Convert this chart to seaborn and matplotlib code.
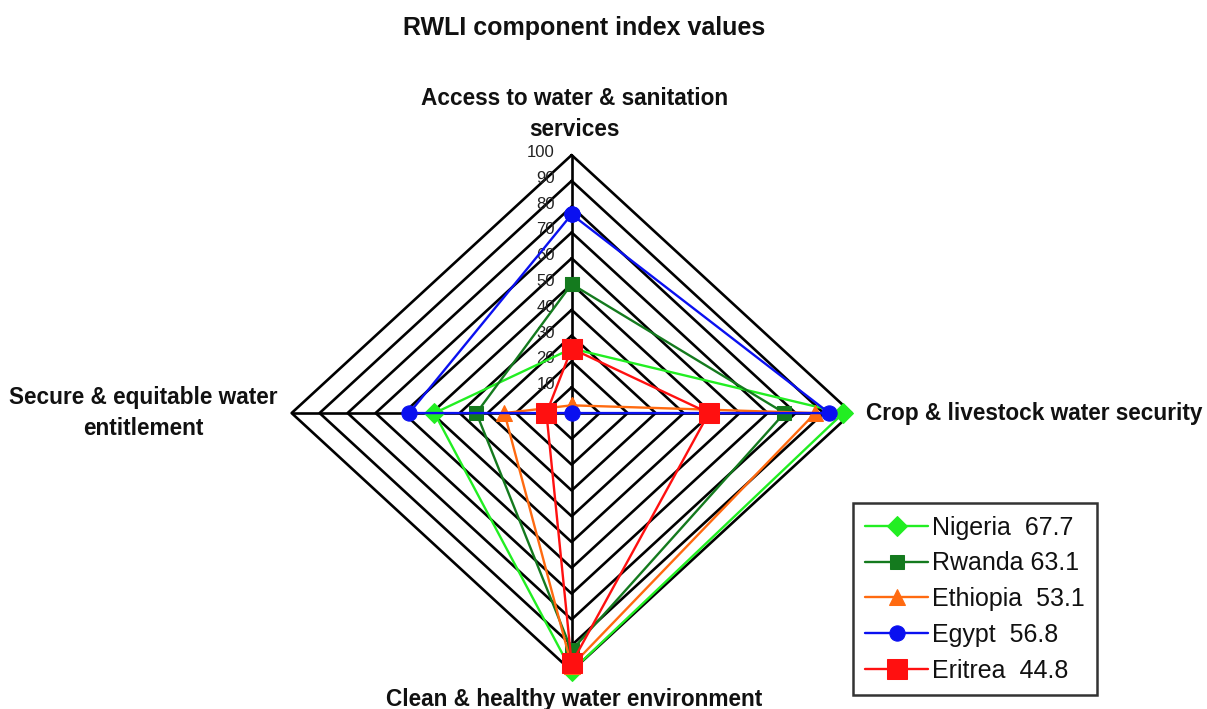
import matplotlib
matplotlib.use("Agg")
import matplotlib.pyplot as plt
import numpy as np
import pandas as pd
import seaborn as sns

# ── Data ──────────────────────────────────────────────────────────────────────
# axes order: top, right, bottom, left
COMPONENTS = [
    "Access to water & sanitation\nservices",
    "Crop & livestock water security",
    "Clean & healthy water environment",
    "Secure & equitable water\nentitlement",
]
COUNTRIES = ["Nigeria", "Rwanda", "Ethiopia", "Egypt", "Eritrea"]
RWLI      = ["67.7", "63.1", "53.1", "56.8", "44.8"]
LEGEND_SEP = ["  ", " ", "  ", "  ", "  "]

nigeria  = [25, 97, 100, 49]
rwanda   = [50, 76, 92, 34]
ethiopia = [3, 87, 98, 24]
egypt    = [77, 92, 0, 58]
eritrea  = [25, 49, 97, 9]

TICKS = list(range(0, 101, 10))

# ── Style ─────────────────────────────────────────────────────────────────────
COLORS  = ["#22ee22", "#147a1e", "#ff6a10", "#0a10f0", "#ff1010"]
MARKERS = ["D", "s", "^", "o", "s"]
MSIZES  = [10, 10, 12, 11, 14]

sns.set_style("white")
plt.rcParams["font.family"] = ["Liberation Sans", "DejaVu Sans"]

# unit directions of the four spokes (top, right, bottom, left)
DIRS = np.array([[0, 1], [1, 0], [0, -1], [-1, 0]])


def to_xy(vals):
    v = np.asarray(vals, dtype=float)
    pts = DIRS * v[:, None]
    pts = np.vstack([pts, pts[:1]])          # close the polygon
    return pd.DataFrame({"x": pts[:, 0], "y": pts[:, 1], "i": range(len(pts))})


fig = plt.figure(figsize=(12.07, 7.09), dpi=100)
ax = fig.add_axes([0.2416, 0.0535, 0.4640, 0.7278])
ax.set_xlim(-100, 100)
ax.set_ylim(-100, 100)
ax.axis("off")

# diamond grid
for t in TICKS[1:]:
    g = to_xy([t] * 4)
    ax.plot(g["x"], g["y"], color="black", lw=1.9, zorder=1, clip_on=False)
ax.plot([-100, 100], [0, 0], color="black", lw=1.9, zorder=1)
ax.plot([0, 0], [-100, 100], color="black", lw=1.9, zorder=1)

# tick labels along the top spoke
for t in TICKS:
    ax.text(-6, t + 1, str(t), ha="right", va="center", fontsize=12,
            color="#222222", zorder=2)

# series
series = [nigeria, rwanda, ethiopia, egypt, eritrea]
for k, vals in enumerate(series):
    d = to_xy(vals)
    lbl = f"{COUNTRIES[k]}{LEGEND_SEP[k]}{RWLI[k]}"
    sns.lineplot(data=d, x="x", y="y", sort=False, estimator=None, ax=ax,
                 color=COLORS[k], lw=1.7, marker=MARKERS[k],
                 markersize=MSIZES[k], markeredgecolor=COLORS[k],
                 label=lbl, zorder=3 + k, clip_on=False)

# component labels
lab_kw = dict(fontsize=16.3, fontweight="bold", color="#111111", linespacing=1.45)
ax.text(1, 105.5, COMPONENTS[0], ha="center", va="bottom", **lab_kw)
ax.text(105, 0, COMPONENTS[1], ha="left", va="center", **lab_kw)
ax.text(1, -106.5, COMPONENTS[2], ha="center", va="top", **lab_kw)
ax.text(-153, 0, COMPONENTS[3], ha="center", va="center", **lab_kw)

fig.text(0.484, 0.96, "RWLI component index values", ha="center", va="center",
         fontsize=18, fontweight="bold", color="#111111")

leg = ax.legend(loc="lower left", bbox_to_anchor=(1.002, -0.0465), fontsize=18,
                frameon=True, fancybox=False, edgecolor="black",
                borderaxespad=0, handlelength=2.5, handletextpad=0.15,
                borderpad=0.5, labelspacing=0.47)
leg.get_frame().set_linewidth(1.8)
for txt in leg.get_texts():
    txt.set_color("#111111")

fig.savefig("out.png", dpi=100, facecolor="white")
